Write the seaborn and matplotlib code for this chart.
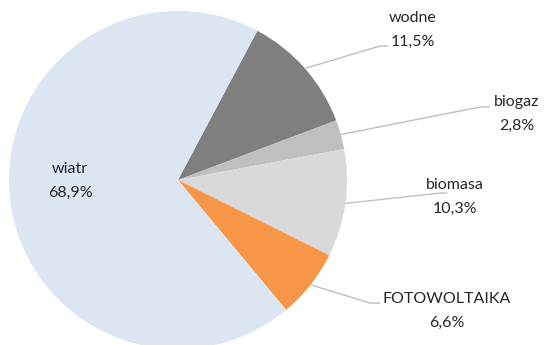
import numpy as np
import seaborn as sns
import matplotlib.pyplot as plt

labels = ['wodne', 'biogaz', 'biomasa', 'FOTOWOLTAIKA', 'wiatr']
shares = [11.5, 2.8, 10.3, 6.6, 68.9]
colors = ['#7f7f7f', '#bfbfbf', '#d9d9d9', '#f79646', '#dce6f2']

sns.set_theme(style='white')
plt.rcParams['font.family'] = ['Lato', 'DejaVu Sans']

fig = plt.figure(figsize=(5.44, 3.45), dpi=100)
ax = fig.add_axes([0, 0, 1, 1])

cx, cy, r = 178, 165, 169
start = 62
wedges, _ = ax.pie(shares, colors=colors, startangle=start, counterclock=False,
                   center=(cx, cy), radius=r, frame=True,
                   wedgeprops=dict(linewidth=0))
ax.set_xlim(0, 544)
ax.set_ylim(0, 345)
ax.set_aspect('equal')
ax.axis('off')

# label anchor (text centre), elbow, end x of the leader line
layout = {
    'wodne': ((413, 315), (380, 299), 388),
    'biogaz': ((517, 231), (480, 238), 489),
    'biomasa': ((455, 148), (441, 152), 447),
    'FOTOWOLTAIKA': ((447, 34), (370, 42), 380),
}

for w, lab, val in zip(wedges, labels, shares):
    txt = '%s\n%s%%' % (lab, ('%.1f' % val).replace('.', ','))
    if lab == 'wiatr':
        ax.text(70, 164, txt, ha='center', va='center', fontsize=11.5,
                color='#262626', linespacing=1.85)
        continue
    mid = np.deg2rad((w.theta1 + w.theta2) / 2)
    x0, y0 = cx + r * np.cos(mid), cy + r * np.sin(mid)
    (tx, ty), (ex, ey), endx = layout[lab]
    ax.plot([x0, ex, endx], [y0, ey, ey], color='#bfbfbf', lw=1)
    ax.text(tx, ty, txt, ha='center', va='center', fontsize=11.5,
            color='#262626', linespacing=1.85)

fig.savefig('out.png', dpi=100)
